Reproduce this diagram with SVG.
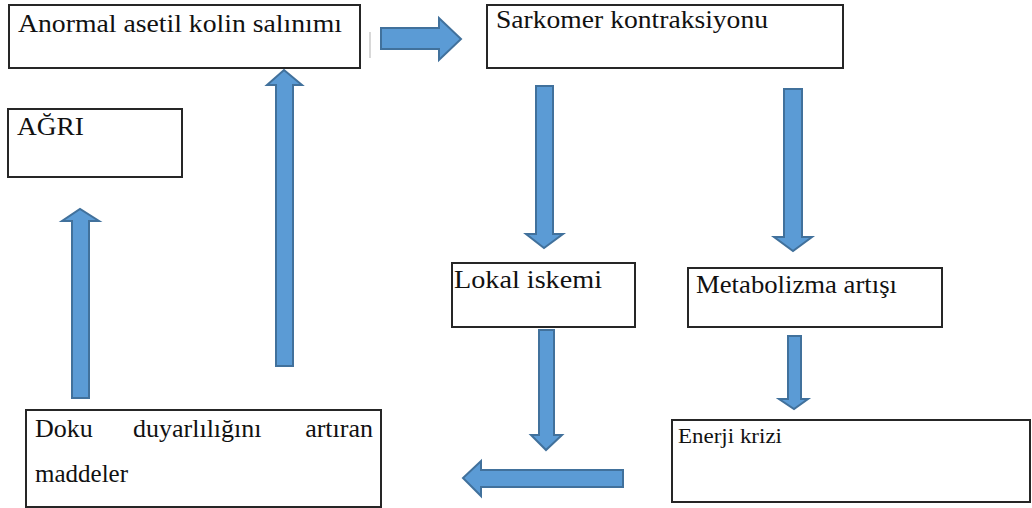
<svg xmlns="http://www.w3.org/2000/svg" width="1032" height="508" viewBox="0 0 1032 508">
<style>
.box{fill:#fff;stroke:#262626;stroke-width:2}
.t{font-family:"Liberation Serif","Times New Roman","DejaVu Serif",serif;font-size:25px;fill:#111}
.tl{font-size:26px}
.ts{font-family:"Liberation Serif","Times New Roman","DejaVu Serif",serif;font-size:20px;fill:#111}
.arr{fill:#5B9BD5;stroke:#41719C;stroke-width:2;stroke-linejoin:miter}
</style>
<rect width="1032" height="508" fill="#fff"/>
<g id="n1"><rect class="box" x="9" y="5" width="351" height="63"/><text class="t" x="18" y="32" textLength="324" lengthAdjust="spacingAndGlyphs">Anormal asetil kolin salınımı</text></g>
<g id="n2"><rect class="box" x="487" y="5" width="356" height="63"/><text class="t" x="496" y="28" textLength="272" lengthAdjust="spacingAndGlyphs">Sarkomer kontraksiyonu</text></g>
<g id="n3"><rect class="box" x="8" y="109" width="174" height="68"/><text class="t" x="17" y="135" textLength="67" lengthAdjust="spacingAndGlyphs">AĞRI</text></g>
<g id="n4"><rect class="box" x="452" y="263" width="183" height="64"/><text class="t" x="454" y="288" textLength="148" lengthAdjust="spacingAndGlyphs">Lokal iskemi</text></g>
<g id="n5"><rect class="box" x="688" y="268" width="254" height="59"/><text class="t" x="696" y="293" textLength="201" lengthAdjust="spacingAndGlyphs">Metabolizma artışı</text></g>
<g id="n6"><rect class="box" x="672" y="420" width="358" height="82"/><text class="ts" x="678" y="443" textLength="104" lengthAdjust="spacingAndGlyphs">Enerji krizi</text></g>
<g id="n7"><rect class="box" x="26" y="410" width="355" height="97"/>
<text class="t tl" x="35" y="437">Doku</text>
<text class="t tl" x="133" y="437">duyarlılığını</text>
<text class="t tl" x="373" y="437" text-anchor="end">artıran</text>
<text class="t" x="35" y="482">maddeler</text></g>
<g id="connectors">
<path class="arr" d="M381,28 H439 V18 L461,39 L439,60 V49 H381 Z"/>
<path class="arr" d="M536,86 H553 V234 H563 L544,248 L526,234 H536 Z"/>
<path class="arr" d="M784,89 H802 V237 H812 L793,251 L774,237 H784 Z"/>
<path class="arr" d="M539,330 H554 V435 H562 L546,450 L531,435 H539 Z"/>
<path class="arr" d="M788,336 H801 V399 H808 L794,409 L779,399 H788 Z"/>
<path class="arr" d="M623,470 V487 H481 V496 L463,478 L481,461 V470 Z"/>
<path class="arr" d="M276,366 V85 H267 L284,70 L302,85 H293 V366 Z"/>
<path class="arr" d="M72,398 V221 H62 L80,209 L99,221 H89 V398 Z"/>
</g>
<rect x="369" y="32" width="2" height="26" fill="#d8d8d8"/>
</svg>
